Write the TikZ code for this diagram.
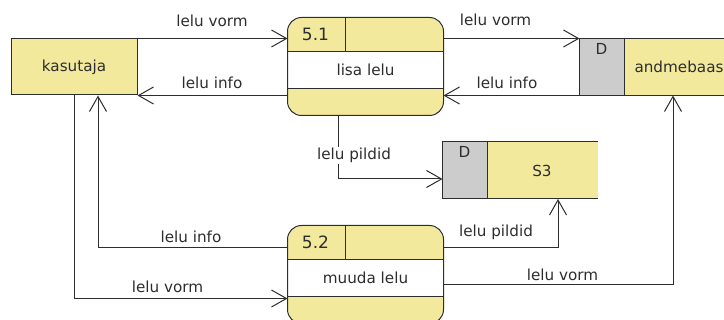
\documentclass[tikz,border=0pt]{standalone}
\usepackage{fontspec}
\setmainfont{DejaVu Sans}
\usetikzlibrary{arrows.meta,calc}
\definecolor{procfill}{RGB}{243,233,156}
\definecolor{storegray}{RGB}{204,204,204}
\definecolor{ink}{RGB}{45,45,45}

\begin{document}
\begin{tikzpicture}[x=1pt,y=-1pt,line width=1pt,color=ink,
  txt/.style={font=\fontsize{15.2}{18}\selectfont},
  numtxt/.style={font=\fontsize{17}{20}\selectfont, inner sep=0pt},
  entity/.style={rectangle, draw, fill=procfill, minimum width=126pt, minimum height=56pt, inner sep=0pt, txt},
  process/.style={rectangle, fill=procfill, rounded corners=14pt, minimum width=155pt, minimum height=97pt, inner sep=0pt},
  store/.style={rectangle, minimum width=154pt, minimum height=56pt, inner sep=0pt},
  flow/.style={-{Straight Barb[length=15pt,width=17pt]}},
  lbl/.style={anchor=base, inner sep=1pt, txt},
  ]
\useasboundingbox (0,0) rectangle (724,320);

% external entity
\node[entity] (kas) at (74,67) {kasutaja};

% processes: yellow body, white middle band, header cell
\foreach \p/\c/\num/\name in {p51/{(365.5,66.5)}/5.1/lisa lelu, p52/{(365.5,274.5)}/5.2/muuda lelu}{
  \node[process] (\p) at \c {};
  \fill[white] ($(\p.north west)+(0,34)$) rectangle ($(\p.south east)+(0,-27)$);
  \draw ($(\p.north west)+(0,34)$) -- ($(\p.north east)+(0,34)$);
  \draw ($(\p.south west)+(0,-27)$) -- ($(\p.south east)+(0,-27)$);
  \draw ($(\p.north west)+(58,0)$) -- ($(\p.north west)+(58,34)$);
  \draw[rounded corners=14pt] (\p.north west) rectangle (\p.south east);
  \node[numtxt] (\p num) at ($(\p.north west)+(28,17)$) {\num};
  \node[txt] (\p name) at ($(\p.north)+(0,52)$) {\name};
}

% data stores (open on the right)
\foreach \s/\c/\name in {db/{(657,67)}/andmebaas, s3/{(520,170.5)}/S3}{
  \node[store] (\s) at \c {};
  \fill[storegray] (\s.north west) rectangle ($(\s.south west)+(45,0)$);
  \fill[procfill] ($(\s.north west)+(45,0)$) rectangle (\s.south east);
  \draw (\s.north east) -- (\s.north west) -- (\s.south west) -- (\s.south east);
  \draw ($(\s.north west)+(45,0)$) -- ($(\s.south west)+(45,0)$);
  \node[txt, inner sep=0pt] (\s id) at ($(\s.north west)+(22,10)$) {D};
  \node[txt] (\s name) at ($(\s.west)+(99.5,0)$) {\name};
}

% data flows
\draw[flow] (kas.north east) -- (kas.north east -| p51.west);
\draw[flow] (kas.south east -| p51.west) -- (kas.south east);
\draw[flow] (p51.east |- db.north west) -- (db.north west);
\draw[flow] (db.south west) -- (db.south west -| p51.east);
\draw[flow] ($(p51.south)+(-27.5,0)$) |- ($(s3.west)+(0,8.5)$);
\draw[flow] ($(p52.north east)+(0,22)$) -| ($(s3.south)+(38,0)$);
\draw[flow] ($(p52.north east)+(0,59)$) -| ($(db.south)+(16,0)$);
\draw[flow] ($(p52.north west)+(0,22)$) -| ($(kas.south)+(24,0)$);
\draw[flow] (kas.south) |- ($(p52.north west)+(0,73)$);

% flow labels
\node[lbl] (l1) at (212,27) {lelu vorm};
\node[lbl] (l2) at (212,89) {lelu info};
\node[lbl] (l3) at (495.5,26) {lelu vorm};
\node[lbl] (l4) at (507,89) {lelu info};
\node[lbl, fill=white] (l5) at (354,160) {lelu pildid};
\node[lbl] (l6) at (496,237) {lelu pildid};
\node[lbl] (l7) at (562.5,281) {lelu vorm};
\node[lbl] (l8) at (191,243) {lelu info};
\node[lbl] (l9) at (167.5,293) {lelu vorm};
\end{tikzpicture}
\end{document}
